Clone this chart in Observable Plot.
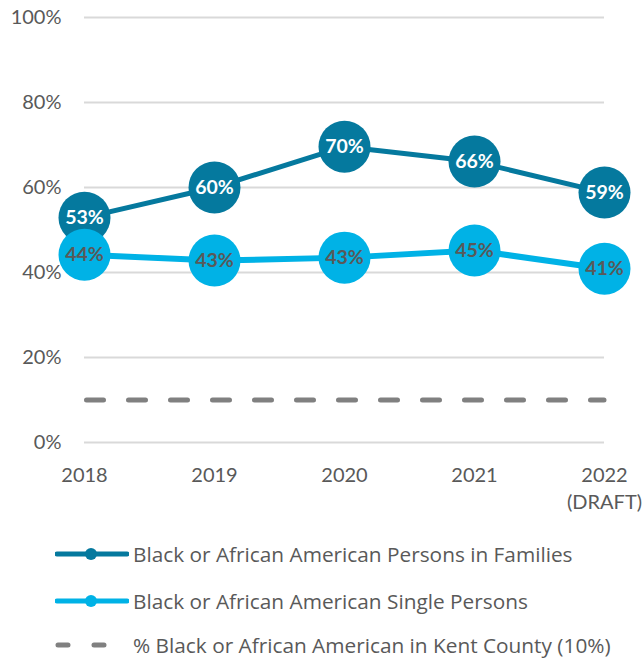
<!DOCTYPE html>
<html>
<head>
<meta charset="utf-8">
<script src="https://cdn.jsdelivr.net/npm/d3@7"></script>
<script src="https://cdn.jsdelivr.net/npm/@observablehq/plot@0.6"></script>
<style>
  html, body { margin: 0; padding: 0; background: #fff; }
  body { width: 642px; height: 660px; overflow: hidden; font-family: Lato, "Open Sans", sans-serif; }
  #legend { position: absolute; left: 0; top: 0; width: 642px; }
  .row { position: absolute; left: 55px; height: 28px; display: flex; align-items: center; font-family: "Open Sans", sans-serif; font-size: 20.8px; color: #595959; white-space: nowrap; }
  .row svg { margin-right: 4px; }
</style>
</head>
<body>
<div id="chart"></div>
<div id="legend"></div>
<script>
const years = ["2018", "2019", "2020", "2021", "2022"];
const yearLabels = ["2018", "2019", "2020", "2021", "2022\n(DRAFT)"];
const families = [52.9, 60.0, 69.6, 66.1, 58.8];
const familyLabels = ["53%", "60%", "70%", "66%", "59%"];
const singles = [44.2, 42.8, 43.5, 45.2, 40.9];
const singleLabels = ["44%", "43%", "43%", "45%", "41%"];
const countyShare = 10;
const yTicks = [0, 20, 40, 60, 80, 100];
const seriesNames = [
  "Black or African American Persons in Families",
  "Black or African American Single Persons",
  "% Black or African American in Kent County (10%)"
];

const darkBlue = "#05799e";
const lightBlue = "#00b2e6";
const gray = "#808080";
const text = "#595959";

const famData = years.map((y, i) => ({year: y, value: families[i], label: familyLabels[i]}));
const sngData = years.map((y, i) => ({year: y, value: singles[i], label: singleLabels[i]}));
const labelOf = Object.fromEntries(years.map((y, i) => [y, yearLabels[i]]));

const chart = Plot.plot({
  width: 642,
  height: 520,
  marginLeft: 84,
  marginRight: 38,
  marginTop: 17,
  marginBottom: 78,
  style: {fontFamily: "Lato, 'Open Sans', sans-serif", background: "#fff"},
  x: {type: "point", domain: years, padding: 0, label: null},
  y: {domain: [0, 100], label: null},
  marks: [
    Plot.gridY(yTicks, {stroke: "#d9d9d9", strokeOpacity: 1, strokeWidth: 2}),
    Plot.axisY(yTicks, {tickSize: 0, tickPadding: 23, fontSize: 20, fill: text, tickFormat: d => d + "%", label: null}),
    Plot.axisX(years, {tickSize: 0, tickPadding: 20, fontSize: 20, fill: text, tickFormat: d => labelOf[d], lineHeight: 1.35, label: null}),
    Plot.ruleY([countyShare], {stroke: gray, strokeWidth: 5, strokeDasharray: "17,25", strokeDashoffset: -2.5, strokeLinecap: "round"}),
    Plot.line(famData, {x: "year", y: "value", stroke: darkBlue, strokeWidth: 5}),
    Plot.dot(famData, {x: "year", y: "value", r: 26, fill: darkBlue}),
    Plot.text(famData, {x: "year", y: "value", text: "label", fill: "#fff", fontSize: 19.5, fontWeight: "bold"}),
    Plot.line(sngData, {x: "year", y: "value", stroke: lightBlue, strokeWidth: 6}),
    Plot.dot(sngData, {x: "year", y: "value", r: 26, fill: lightBlue}),
    Plot.text(sngData, {x: "year", y: "value", text: "label", fill: text, fontSize: 19.5, fontWeight: "bold"})
  ]
});
document.getElementById("chart").appendChild(chart);

const legend = document.getElementById("legend");
const swatches = [
  `<svg width="74" height="14"><line x1="2" y1="7" x2="72" y2="7" stroke="${darkBlue}" stroke-width="5" stroke-linecap="round"/><circle cx="36" cy="7" r="6" fill="${darkBlue}"/></svg>`,
  `<svg width="74" height="14"><line x1="2" y1="7" x2="72" y2="7" stroke="${lightBlue}" stroke-width="5" stroke-linecap="round"/><circle cx="36" cy="7" r="6" fill="${lightBlue}"/></svg>`,
  `<svg width="74" height="14"><line x1="3" y1="7" x2="72" y2="7" stroke="${gray}" stroke-width="5" stroke-dasharray="10,26" stroke-linecap="round"/></svg>`
];
const centers = [554, 601, 645];
seriesNames.forEach((name, i) => {
  const row = document.createElement("div");
  row.className = "row";
  row.style.top = (centers[i] - 14) + "px";
  row.innerHTML = swatches[i] + `<span>${name}</span>`;
  legend.appendChild(row);
});
</script>
</body>
</html>
